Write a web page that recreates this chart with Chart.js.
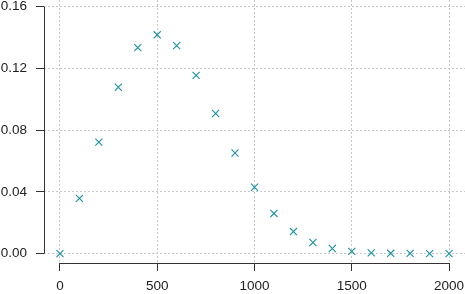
<!DOCTYPE html>
<html>
<head>
<meta charset="utf-8">
<script src="https://cdn.jsdelivr.net/npm/chart.js@4/dist/chart.umd.min.js"></script>
<style>
  html, body { margin: 0; padding: 0; background: #fff; }
  #wrap { width: 465px; height: 294px; }
</style>
</head>
<body>
<div id="wrap"><canvas id="plot"></canvas></div>
<script>
// values
const xValues = [0, 100, 200, 300, 400, 500, 600, 700, 800, 900, 1000,
                 1100, 1200, 1300, 1400, 1500, 1600, 1700, 1800, 1900, 2000];
const yValues = [0.0, 0.0358, 0.0722, 0.1078, 0.1335, 0.1418, 0.1348, 0.1155,
                 0.0908, 0.0652, 0.0430, 0.0260, 0.0143, 0.0072, 0.0033,
                 0.0014, 0.0005, 0.0002, 0.0001, 0.0, 0.0];
const xTicks = [0, 500, 1000, 1500, 2000];
const yTicks = [0, 0.04, 0.08, 0.12, 0.16];

const points = xValues.map(function (x, i) {
    return { x: x, y: yValues[i] };
});

// R style detached axis lines, only from first to last tick
const axisLines = {
    id: "axisLines",
    afterDraw: function (chart) {
        const ctx = chart.ctx;
        const xs = chart.scales.x;
        const ys = chart.scales.y;
        ctx.save();
        ctx.strokeStyle = "#333";
        ctx.lineWidth = 1;
        ctx.beginPath();
        const yl = Math.round(xs.top) + 0.5;
        ctx.moveTo(xs.getPixelForValue(xTicks[0]), yl);
        ctx.lineTo(xs.getPixelForValue(xTicks[xTicks.length - 1]), yl);
        const xl = Math.round(ys.right) + 0.5;
        ctx.moveTo(xl, ys.getPixelForValue(yTicks[0]));
        ctx.lineTo(xl, ys.getPixelForValue(yTicks[yTicks.length - 1]));
        ctx.stroke();
        ctx.restore();
    },
};

Chart.defaults.font.family = "'Liberation Sans', Arial, sans-serif";
Chart.defaults.font.size = 13.5;
Chart.defaults.color = "#222";

const ctx = document.getElementById("plot").getContext("2d");
const chart = new Chart(ctx, {
    type: "scatter",
    data: {
        datasets: [
            {
                data: points,
                pointStyle: "crossRot",
                pointRadius: 5,
                pointHoverRadius: 5,
                borderColor: "rgb(27,146,161)",
                backgroundColor: "rgb(27,146,161)",
                pointBorderWidth: 1.1,
            },
        ],
    },
    options: {
        responsive: true,
        maintainAspectRatio: false,
        animation: false,
        events: [],
        layout: { padding: 0, autoPadding: false },
        plugins: { legend: { display: false }, tooltip: { enabled: false } },
        scales: {
            x: {
                type: "linear",
                min: -82,
                max: 2082,
                afterBuildTicks: function (scale) {
                    scale.ticks = xTicks.map(function (v) { return { value: v }; });
                },
                afterFit: function (scale) {
                    scale.height = 31;
                    scale.paddingLeft = 0;
                    scale.paddingRight = 0;
                },
                grid: {
                    color: "#c8c8c8",
                    tickColor: "#333",
                    tickLength: 8,
                },
                border: { display: false, dash: [2, 2] },
                ticks: {
                    padding: 7,
                    maxRotation: 0,
                    autoSkip: false,
                    callback: function (v) { return String(v); },
                },
            },
            y: {
                type: "linear",
                min: -0.0061,
                max: 0.16435,
                afterBuildTicks: function (scale) {
                    scale.ticks = yTicks.map(function (v) { return { value: v }; });
                },
                afterFit: function (scale) {
                    scale.width = 44;
                    scale.paddingTop = 0;
                    scale.paddingBottom = 0;
                },
                grid: {
                    color: "#c8c8c8",
                    tickColor: "#333",
                    tickLength: 8,
                },
                border: { display: false, dash: [2, 2] },
                ticks: {
                    padding: 9,
                    autoSkip: false,
                    callback: function (v) { return v.toFixed(2); },
                },
            },
        },
    },
    plugins: [axisLines],
});
</script>
</body>
</html>
